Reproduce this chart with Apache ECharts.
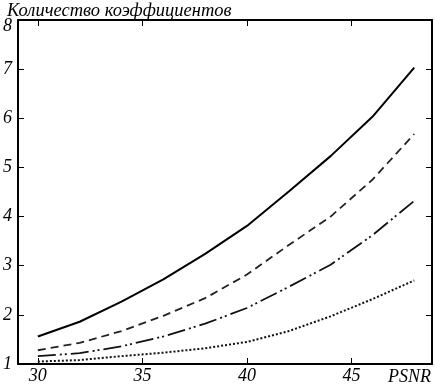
<!DOCTYPE html>
<html><head><meta charset="utf-8">
<script src="https://cdn.jsdelivr.net/npm/echarts@6/dist/echarts.min.js"></script>
<style>html,body{margin:0;padding:0;background:#fff}#c{width:435px;height:385px}</style>
</head><body><div id="c"></div>
<script>
var psnr = [30, 32, 34, 36, 38, 40, 42, 44, 46, 48];
var solid = [1.56, 1.86, 2.27, 2.72, 3.24, 3.81, 4.51, 5.23, 6.03, 7.03];
var dashed = [1.28, 1.43, 1.67, 1.98, 2.34, 2.82, 3.42, 4.00, 4.75, 5.68];
var dashDot = [1.16, 1.22, 1.36, 1.56, 1.82, 2.14, 2.57, 3.02, 3.62, 4.32];
var dotted = [1.05, 1.08, 1.16, 1.23, 1.32, 1.45, 1.67, 1.97, 2.32, 2.70];
var xTicks = [30, 35, 40, 45];
var yTitle = 'Количество коэффициентов';
var xTitle = 'PSNR';

function pairs(arr){ return psnr.map(function(x,i){ return [x, arr[i]]; }); }
var font = '"Liberation Serif", "DejaVu Serif", serif';
var chart = echarts.init(document.getElementById('c'), null, {renderer:'canvas'});
var axLine = {show:true, lineStyle:{color:'#000', width:2}};
chart.setOption({
  animation:false,
  backgroundColor:'#fff',
  grid:{left:18, top:20, right:3, bottom:19, containLabel:false},
  title:{text:yTitle, left:2, top:-3, textStyle:{fontFamily:font, fontStyle:'italic', fontWeight:'normal', fontSize:18.5, color:'#000'}},
  graphic:[{type:'text', left:388, top:368, style:{text:xTitle, font:'italic 18px "Liberation Serif", serif', fill:'#000'}}],
  xAxis:[
    {type:'value', position:'bottom', min:29.05, max:48.85, axisLine:axLine,
     splitLine:{show:false},
     axisTick:{show:true, inside:true, length:6, customValues:xTicks, lineStyle:{color:'#000', width:1}},
     axisLabel:{customValues:xTicks, fontFamily:font, fontStyle:'italic', fontSize:18, color:'#000', margin:3}},
    {type:'value', position:'top', min:29.05, max:48.85, axisLine:axLine,
     splitLine:{show:false},
     axisTick:{show:true, inside:true, length:6, customValues:xTicks, lineStyle:{color:'#000', width:1}},
     axisLabel:{show:false}}
  ],
  yAxis:[
    {type:'value', position:'left', min:1, max:8, interval:1, axisLine:axLine,
     splitLine:{show:false},
     axisTick:{show:true, inside:true, length:6, lineStyle:{color:'#000', width:1}},
     axisLabel:{fontFamily:font, fontStyle:'italic', fontSize:18, color:'#000', margin:6, lineHeight:12,
       verticalAlignMaxLabel:'top'}},
    {type:'value', position:'right', min:1, max:8, interval:1, axisLine:axLine,
     splitLine:{show:false},
     axisTick:{show:true, inside:true, length:6, lineStyle:{color:'#000', width:1}},
     axisLabel:{show:false}}
  ],
  series:[
    {type:'line', data:pairs(solid), symbol:'none', lineStyle:{color:'#000', width:2, type:'solid'}},
    {type:'line', data:pairs(dashed), symbol:'none', lineStyle:{color:'#222', width:1.8, type:[8,5]}},
    {type:'line', data:pairs(dashDot), symbol:'none', lineStyle:{color:'#111', width:1.8, type:[18,4,2,3,2,4]}},
    {type:'line', data:pairs(dotted), symbol:'none', lineStyle:{color:'#111', width:2, type:[2,2]}}
  ]
});
</script></body></html>
